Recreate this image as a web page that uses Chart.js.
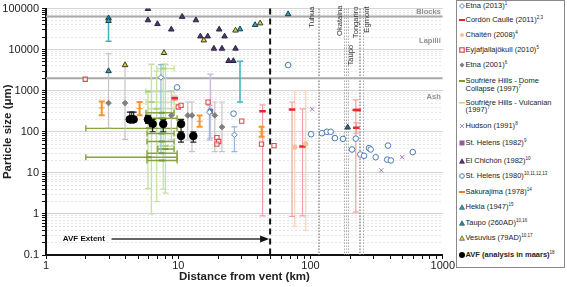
<!DOCTYPE html>
<html><head><meta charset="utf-8">
<script src="https://cdn.jsdelivr.net/npm/chart.js@4.4.1/dist/chart.umd.min.js"></script>
<style>
html,body{margin:0;padding:0;background:#fff;}
#wrap{position:relative;width:567px;height:287px;font-family:"Liberation Sans",Arial,sans-serif;overflow:hidden;}
#c{position:absolute;left:0;top:0;}
#legend{position:absolute;left:456px;top:0;width:109px;height:268px;border:1px solid #8a8a8a;box-sizing:border-box;background:#fff;}
.li{position:absolute;left:2px;font-size:7.5px;line-height:7.3px;color:#222;white-space:nowrap;}
.li sup{font-size:4.5px;vertical-align:3px;line-height:0;}
.li svg{position:absolute;left:0;top:-3px;}
.li .t{position:absolute;left:6.5px;top:-3.7px;}
</style></head>
<body><div id="wrap"><canvas id="c" width="456" height="287"></canvas><div id="legend"></div></div>
<script>
// ---------- data ----------
const xTicks = [1, 10, 100, 1000];
const yTicks = [0.1, 1, 10, 100, 1000, 10000, 100000];

const etna2013 = [
  {x:7.4, y:2100, yMin:30, yMax:4300},
  {x:17.2, y:300, yMin:63, yMax:440},
  {x:26.6, y:84, yMin:33, yMax:132}
];
const cordonCaulle = [
  {x:9.4, y:650, yMin:580, yMax:735},
  {x:43.4, y:315, yMin:0.9, yMax:450},
  {x:72.5, y:350, yMin:0.87, yMax:530},
  {x:87, y:44, yMin:0.9, yMax:360},
  {x:220, y:340, yMin:1.1, yMax:600},
  {x:227, y:340},
  {x:222, y:125, yMin:92, yMax:165}
];
const chaiten = [
  {x:76, y:42, yMin:0.5, yMax:1000},
  {x:92, y:51, yMin:0.4, yMax:1000}
];
const eyjafjallajokull = [
  {x:1.98, y:1900}, {x:10, y:400}, {x:10.5, y:440}, {x:16.8, y:527},
  {x:19.6, y:72}, {x:20.2, y:58}, {x:19.6, y:50}, {x:30.2, y:181},
  {x:42.6, y:50}, {x:53, y:46}
];
const etna2001 = [
  {x:2.97, y:500, yMin:125, yMax:8000},
  {x:3.96, y:500, yMin:65, yMax:4000},
  {x:8.86, y:250, yMin:63, yMax:1000},
  {x:11.8, y:250, yMin:63, yMax:530},
  {x:12.7, y:250, yMin:33, yMax:530},
  {x:18.9, y:250, yMin:33, yMax:530},
  {x:21.4, y:130, yMin:33, yMax:530}
];
const soufriereDome = [
  {x:6, y:121, xMin:2, xMax:9.8},
  {x:6, y:24, xMin:2, xMax:9.8},
  {x:7.5, y:91, xMin:5.8, xMax:9.3},
  {x:7.5, y:58, xMin:5.8, xMax:9.3},
  {x:7.5, y:20, xMin:5.8, xMax:9.8},
  {x:7.5, y:30, xMin:5.8, xMax:9.8},
  {x:8, y:38, xMin:7, xMax:9.3},
  {x:7.5, y:290, xMin:5.7, xMax:9.3},
  {x:7.5, y:214, xMin:5.8, xMax:9.8}
];
const soufriereVulcanian = [
  {x:5.9, y:950, xMin:5.7, xMax:9.3, yMin:4.1, yMax:1000},
  {x:6.27, y:527, xMin:5.7, xMax:9.3, yMin:1.0, yMax:4400},
  {x:6.87, y:364, xMin:5.9, xMax:9.3, yMin:2, yMax:3000},
  {x:7.7, y:3450, xMin:6.9, xMax:9.3, yMin:4, yMax:4400},
  {x:8.0, y:45, xMin:6.9, xMax:9.3, yMin:3.2, yMax:4400}
];
const hudson = [{x:103, y:352}, {x:493, y:24}, {x:343, y:11.5}];
const stHelens1982 = [{x:17.5, y:315, yMin:70, yMax:2500}];
const elChichon = [
  {x:5.9, y:98000}, {x:5.9, y:52000}, {x:6.96, y:42000}, {x:8.86, y:31000},
  {x:10.7, y:63000}, {x:13.6, y:52000}, {x:14.7, y:21000}, {x:16.7, y:21000},
  {x:20.4, y:31000}, {x:22.4, y:21000}, {x:18.6, y:10600}, {x:21.4, y:10600},
  {x:27.1, y:10600}, {x:24, y:5300}, {x:26.1, y:5300}
];
const stHelens1980 = [
  {x:9.8, y:1200}, {x:26.2, y:276}, {x:67.7, y:4200}, {x:101, y:87},
  {x:122, y:92}, {x:133, y:100}, {x:142, y:100}, {x:153, y:70}, {x:176, y:67},
  {x:206, y:37}, {x:220, y:68}, {x:238, y:28}, {x:254, y:26}, {x:277, y:40},
  {x:285, y:37}, {x:311, y:24}, {x:385, y:46}, {x:380, y:21}, {x:405, y:20},
  {x:593, y:32}
];
const sakurajima = [
  {x:2.64, y:380, yMin:253, yMax:548},
  {x:5.1, y:370, yMin:253, yMax:527},
  {x:14.5, y:180, yMin:132, yMax:250},
  {x:42.7, y:100, yMin:76, yMax:132}
];
const hekla = [
  {x:2.97, y:58000}, {x:2.97, y:50000, yMin:16000, yMax:57000}, {x:2.97, y:3000},
  {x:29.3, y:31300}, {x:38.1, y:39800}, {x:67.7, y:73000}
];
const taupo = [{x:191, y:128}, {x:29.3, y:1700, yMin:527, yMax:5200, hide:true}];
const vesuvius = [{x:3.96, y:4200}, {x:7.8, y:8300}, {x:15.6, y:16800}, {x:27.1, y:29200}, {x:41.6, y:43700}];
const avf = [
  {x:4.3, y:200, yMin:200, yMax:300}, {x:4.45, y:200, yMin:200, yMax:300}, {x:4.6, y:200, yMin:200, yMax:300},
  {x:5.9, y:200, yMin:160, yMax:250}, {x:6.4, y:155, yMin:100, yMax:200}, {x:7.7, y:155, yMin:100, yMax:200},
  {x:10.5, y:155, yMin:100, yMax:200}, {x:10.5, y:79, yMin:56, yMax:100}, {x:13, y:79, yMin:56, yMax:100}
];

// reference annotations
const sizeBoundaries = [64000, 2000];
const sizeClasses = ['Blocks', 'Lapilli', 'Ash'];
const sizeClassY = [82000, 16000, 690];
const centreLinesKm = [114, 116, 180, 185, 193, 231, 238, 248];
const centreNames = ['Tuhua', 'Okataina', 'Taupo', 'Tongariro', 'Egmont'];
const centreLabelKm = [102, 166, 201, 219, 265];
const centreLabelTop = [112000, 118000, 13000, 112000, 112000];
const avfExtentKm = 49.5;
const avfArrow = {label:'AVF Extent', textX:1.34, fromX:3.13, y:0.245};

// ---------- helpers ----------
const isDecade = v => Math.abs(Math.log10(v) - Math.round(Math.log10(v))) < 1e-6;
function logTicks(list){
  const out = [];
  for (let i = 0; i < list.length - 1; i++) for (let m = 1; m < 10; m++) out.push(+(m * list[i]).toPrecision(3));
  out.push(list[list.length - 1]);
  return out.map(v => ({value:v}));
}
const fontFam = '"Liberation Sans", Arial, sans-serif';

function ds(label, data, o){
  return Object.assign({label, data, showLine:false,
    pointRadius: c => (c.raw && c.raw.hide) ? 0 : (o.r || 3),
    pointBorderWidth:1}, o);
}
const datasets = [
  ds('Soufrière Hills - Vulcanian (1997)', soufriereVulcanian, {pointStyle:'line', r:3, borderColor:'#a9d37d', backgroundColor:'#a9d37d', pointBorderWidth:2, errColor:'#c3e2a0', errWidth:1.3}),
  ds('Soufrière Hills - Dome Collapse (1997)', soufriereDome, {pointStyle:'line', r:3, borderColor:'#7d9a3b', backgroundColor:'#7d9a3b', pointBorderWidth:2, errColor:'#86a43f', errWidth:1.4}),
  ds('Etna (2001)', etna2001, {pointStyle:'rectRot', r:2.8, borderColor:'#7f7f7f', backgroundColor:'#7f7f7f', errColor:'#c4c4c4', errWidth:1.2}),
  ds('Chaitén (2008)', chaiten, {pointStyle:'circle', r:2.3, borderColor:'#f7c196', backgroundColor:'#f7c196', errColor:'#fbd3b4', errWidth:1.2}),
  ds('Cordón Caulle (2011)', cordonCaulle, {pointStyle:'line', r:3.3, borderColor:'#e8282b', backgroundColor:'#e8282b', pointBorderWidth:2.5, errColor:'#f5a0a0', errWidth:1.2}),
  ds('Eyjafjallajökull (2010)', eyjafjallajokull, {pointStyle:'rect', r:3, borderColor:'#e04a4a', backgroundColor:'rgba(255,255,255,0.6)', pointBorderWidth:1.1}),
  ds('Etna (2013)', etna2013, {pointStyle:'rectRot', r:2.8, borderColor:'#4b86c5', backgroundColor:'#fff', errColor:'#8fb8de', errWidth:1.2}),
  ds('St. Helens (1982)', stHelens1982, {pointStyle:'rect', r:3.2, borderColor:'#8e5f96', backgroundColor:'#8e5f96', errColor:'#cbbbe0', errWidth:1.5}),
  ds('Hudson (1991)', hudson, {pointStyle:'crossRot', r:3, borderColor:'#9b7bb8', backgroundColor:'#9b7bb8'}),
  ds('St. Helens (1980)', stHelens1980, {pointStyle:'circle', r:2.8, borderColor:'#4a7ab5', backgroundColor:'#fff'}),
  ds('Sakurajima (1978)', sakurajima, {pointStyle:'line', r:0, borderColor:'#f5962a', backgroundColor:'#f5962a', errColor:'#f5962a', errWidth:2}),
  ds('El Chichón (1982)', elChichon, {pointStyle:'triangle', r:3.2, borderColor:'#2b2140', backgroundColor:'#4a3b6e'}),
  ds('Hekla (1947)', hekla, {pointStyle:'triangle', r:3.2, borderColor:'#1e3a48', backgroundColor:'#2aa5b5', errColor:'#3bb3c3', errWidth:1.5}),
  ds('Taupo (260AD)', taupo, {pointStyle:'triangle', r:3.2, borderColor:'#1e3a48', backgroundColor:'#2d6e7e', errColor:'#3bb3c3', errWidth:1.5}),
  ds('Vesuvius (79AD)', vesuvius, {pointStyle:'triangle', r:3.2, borderColor:'#3a3a2a', backgroundColor:'#d8d23a'}),
  ds('AVF (analysis in maars)', avf, {pointStyle:'circle', r:3.8, borderColor:'#000', backgroundColor:'#000', errColor:'#222', errWidth:1.2})
];

function line(ctx, x1, y1, x2, y2){ ctx.beginPath(); ctx.moveTo(x1, y1); ctx.lineTo(x2, y2); ctx.stroke(); }

const backPlugin = {
  id:'back',
  beforeDatasetsDraw(chart){
    const {ctx, chartArea:a, scales:{x, y}} = chart;
    ctx.save();
    ctx.beginPath(); ctx.rect(a.left, a.top - 1, a.right - a.left, a.bottom - a.top + 1); ctx.clip();
    ctx.strokeStyle = '#a9a9a9'; ctx.lineWidth = 2;
    sizeBoundaries.forEach(v => { const py = y.getPixelForValue(v); line(ctx, a.left, py, a.right, py); });
    ctx.strokeStyle = '#ababab'; ctx.lineWidth = 1; ctx.setLineDash([1.5, 1.5]);
    centreLinesKm.forEach(v => { const px = Math.round(x.getPixelForValue(v)) + 0.5; line(ctx, px, a.top, px, a.bottom); });
    ctx.setLineDash([]);
    chart.data.datasets.forEach(d => {
      if (!d.errColor) return;
      ctx.strokeStyle = d.errColor; ctx.lineWidth = d.errWidth || 1;
      const cap = 3;
      d.data.forEach(p => {
        const px = x.getPixelForValue(p.x), py = y.getPixelForValue(p.y);
        if (p.yMin != null){
          const y1 = y.getPixelForValue(p.yMin), y2 = y.getPixelForValue(p.yMax);
          line(ctx, px, y1, px, y2); line(ctx, px - cap, y1, px + cap, y1); line(ctx, px - cap, y2, px + cap, y2);
        }
        if (p.xMin != null){
          const x1 = x.getPixelForValue(p.xMin), x2 = x.getPixelForValue(p.xMax);
          line(ctx, x1, py, x2, py); line(ctx, x1, py - cap, x1, py + cap); line(ctx, x2, py - cap, x2, py + cap);
        }
      });
    });
    ctx.strokeStyle = '#111'; ctx.lineWidth = 2; ctx.setLineDash([6, 4]);
    const ax = x.getPixelForValue(avfExtentKm);
    line(ctx, ax, a.top, ax, a.bottom);
    ctx.setLineDash([]);
    ctx.restore();
  },
  afterDatasetsDraw(chart){
    const {ctx, chartArea:a, scales:{x, y}} = chart;
    ctx.save();
    ctx.font = '600 7.5px ' + fontFam; ctx.fillStyle = '#8f8f8f'; ctx.textAlign = 'right'; ctx.textBaseline = 'middle';
    sizeClasses.forEach((t, i) => ctx.fillText(t, a.right - 2, y.getPixelForValue(sizeClassY[i])));
    ctx.font = '7.6px ' + fontFam; ctx.fillStyle = '#333';
    centreNames.forEach((t, i) => {
      ctx.save();
      ctx.translate(x.getPixelForValue(centreLabelKm[i]), y.getPixelForValue(centreLabelTop[i]));
      ctx.rotate(-Math.PI / 2); ctx.textAlign = 'right'; ctx.textBaseline = 'middle';
      ctx.fillText(t, 0, 0); ctx.restore();
    });
    const ay = y.getPixelForValue(avfArrow.y);
    const ax1 = x.getPixelForValue(avfArrow.fromX), ax2 = x.getPixelForValue(avfExtentKm) - 1;
    ctx.strokeStyle = '#333'; ctx.lineWidth = 1.5;
    line(ctx, ax1, ay, ax2 - 6, ay);
    ctx.fillStyle = '#111';
    ctx.beginPath(); ctx.moveTo(ax2, ay); ctx.lineTo(ax2 - 9, ay - 3.5); ctx.lineTo(ax2 - 9, ay + 3.5); ctx.closePath(); ctx.fill();
    ctx.font = 'bold 8px ' + fontFam; ctx.fillStyle = '#111'; ctx.textAlign = 'left'; ctx.textBaseline = 'middle';
    ctx.fillText(avfArrow.label, x.getPixelForValue(avfArrow.textX), ay);
    ctx.restore();
  }
};

new Chart(document.getElementById('c'), {
  type:'scatter',
  data:{datasets},
  options:{
    responsive:false, animation:false, devicePixelRatio:1,
    layout:{padding:{left:0, right:12, top:5, bottom:0}},
    plugins:{legend:{display:false}, tooltip:{enabled:false}},
    scales:{
      x:{type:'logarithmic', min:xTicks[0], max:xTicks[xTicks.length-1],
        afterBuildTicks: s => { s.ticks = logTicks(xTicks); },
        afterFit: s => { s.height = 32; },
        ticks:{autoSkip:false, maxRotation:0, padding:1, color:'#222', font:{family:fontFam, size:11, lineHeight:1},
          callback: v => isDecade(v) ? String(v) : ''},
        grid:{drawOnChartArea:false, drawTicks:true, tickLength:4, tickColor:'#111'},
        border:{color:'#111', width:2},
        title:{display:true, text:'Distance from vent (km)', color:'#222', font:{family:fontFam, size:11.5, weight:'bold'}, padding:{top:0, bottom:3}}
      },
      y:{type:'logarithmic', min:yTicks[0], max:yTicks[yTicks.length-1],
        afterBuildTicks: s => { s.ticks = logTicks(yTicks); },
        afterFit: s => { s.width = 46; },
        ticks:{autoSkip:false, padding:3, color:'#222', font:{family:fontFam, size:11, lineHeight:1},
          callback: v => isDecade(v) ? String(v) : ''},
        grid:{drawOnChartArea:true, drawTicks:true, tickLength:4, tickColor:'#111',
          color: c => (c.tick && isDecade(c.tick.value)) ? '#d4d4d4' : '#e6e6e6', lineWidth:1},
        border:{color:'#111', width:2, dash: c => (c.tick && !isDecade(c.tick.value)) ? [2, 2] : []},
        title:{display:true, text:'Particle size (μm)', color:'#222', font:{family:fontFam, size:11.5, weight:'bold'}, padding:{top:1, bottom:0}}
      }
    }
  },
  plugins:[backPlugin]
});

// ---------- HTML legend ----------
const legendItems = [
  {t:'Etna (2013)', s:'1', y:5, m:'<path d="M3 0.5 L5.5 3 L3 5.5 L0.5 3Z" fill="#fff" stroke="#4b86c5"/>'},
  {t:'Cordón Caulle (2011)', s:'2,3', y:19, m:'<rect x="0" y="2" width="6" height="2" fill="#e8282b"/>'},
  {t:'Chaitén (2008)', s:'4', y:33.5, m:'<circle cx="3" cy="3" r="2" fill="#f7c196"/>'},
  {t:'Eyjafjallajökull (2010)', s:'5', y:48.5, m:'<rect x="0.8" y="0.8" width="4.4" height="4.4" fill="#fff" stroke="#e04a4a" stroke-width="1.2"/>'},
  {t:'Etna (2001)', s:'6', y:64, m:'<path d="M3 0.5 L5.5 3 L3 5.5 L0.5 3Z" fill="#7f7f7f"/>'},
  {t:'Soufrière Hills - Dome<br>Collapse (1997)', s:'7', y:80, m:'<rect x="0" y="2" width="6" height="2" fill="#7d9a3b"/>'},
  {t:'Soufrière Hills - Vulcanian<br>(1997)', s:'7', y:101.5, m:'<rect x="0" y="2" width="6" height="1.6" fill="#b9dc92"/>'},
  {t:'Hudson (1991)', s:'8', y:125, m:'<path d="M1 1 L5 5 M5 1 L1 5" stroke="#9b7bb8" stroke-width="0.9"/>'},
  {t:'St. Helens (1982)', s:'9', y:142, m:'<rect x="0.5" y="0.5" width="5" height="5" fill="#8e5f96"/>'},
  {t:'El Chichón (1982)', s:'10', y:160, m:'<path d="M3 0.8 L5.5 5.3 L0.5 5.3Z" fill="#4a3b6e" stroke="#2b2140" stroke-width="0.6"/>'},
  {t:'St. Helens (1980)', s:'10,11,12,13', y:175, m:'<circle cx="3" cy="3" r="2.3" fill="#fff" stroke="#4a7ab5"/>'},
  {t:'Sakurajima (1978)', s:'14', y:190.5, m:'<rect x="0" y="2" width="6" height="2" fill="#f07a2a"/>'},
  {t:'Hekla (1947)', s:'15', y:206, m:'<path d="M3 0.8 L5.5 5.3 L0.5 5.3Z" fill="#2aa5b5" stroke="#1e3a48" stroke-width="0.6"/>'},
  {t:'Taupo (260AD)', s:'10,16', y:221.5, m:'<path d="M3 0.8 L5.5 5.3 L0.5 5.3Z" fill="#2d8e9e" stroke="#1e3a48" stroke-width="0.6"/>'},
  {t:'Vesuvius (79AD)', s:'10,17', y:236.5, m:'<path d="M3 0.8 L5.5 5.3 L0.5 5.3Z" fill="#d8d23a" stroke="#3a3a2a" stroke-width="0.6"/>'},
  {t:'<b>AVF (analysis in maars)</b>', s:'18', y:254, m:'<circle cx="3" cy="3" r="3" fill="#000"/>'}
];
const lg = document.getElementById('legend');
legendItems.forEach(it => {
  const d = document.createElement('div');
  d.className = 'li';
  d.style.top = it.y + 'px';
  d.innerHTML = '<svg width="6" height="6" viewBox="0 0 6 6">' + it.m + '</svg><span class="t">' + it.t + '<sup>' + it.s + '</sup></span>';
  lg.appendChild(d);
});
</script>
</body></html>
